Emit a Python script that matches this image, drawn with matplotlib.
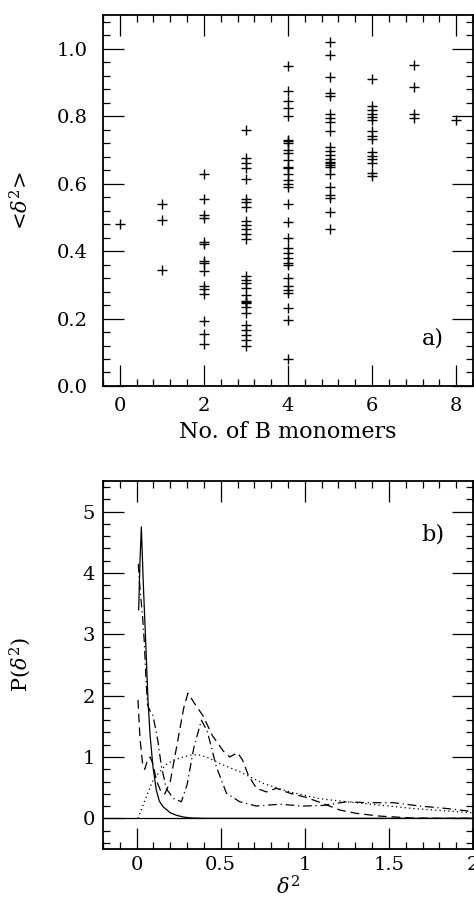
import numpy as np
import matplotlib
matplotlib.use("Agg")
import matplotlib.pyplot as plt
from matplotlib.ticker import MultipleLocator

plt.rcParams['font.family'] = ['DejaVu Serif']
plt.rcParams['mathtext.fontset'] = 'dejavuserif'

# ---- panel a: <delta^2> vs number of B monomers ----
nb_0 = [0.48]
nb_1 = [0.54, 0.492, 0.344]
nb_2 = [0.629, 0.555, 0.507, 0.498, 0.426, 0.421, 0.372, 0.365, 0.342,
        0.295, 0.288, 0.273, 0.194, 0.155, 0.125]
nb_3 = [0.76, 0.675, 0.66, 0.645, 0.615, 0.555, 0.545, 0.53, 0.49, 0.478,
        0.466, 0.452, 0.435, 0.325, 0.315, 0.305, 0.29, 0.27, 0.252, 0.248,
        0.245, 0.235, 0.215, 0.18, 0.165, 0.15, 0.135, 0.12]
nb_4 = [0.95, 0.875, 0.845, 0.825, 0.80, 0.73, 0.725, 0.72, 0.70, 0.69,
        0.67, 0.65, 0.645, 0.63, 0.61, 0.60, 0.59, 0.54, 0.485, 0.44, 0.41,
        0.395, 0.38, 0.365, 0.36, 0.32, 0.295, 0.285, 0.275, 0.23, 0.195, 0.08]
nb_5 = [1.02, 0.98, 0.915, 0.868, 0.86, 0.806, 0.796, 0.782, 0.757, 0.708,
        0.698, 0.685, 0.672, 0.665, 0.66, 0.655, 0.648, 0.63, 0.59, 0.567,
        0.558, 0.515, 0.465]
nb_6 = [0.91, 0.83, 0.818, 0.806, 0.797, 0.788, 0.757, 0.742, 0.732, 0.693,
        0.683, 0.672, 0.662, 0.633, 0.624]
nb_7 = [0.953, 0.887, 0.806, 0.795]
nb_8 = [0.789]
groups = [nb_0, nb_1, nb_2, nb_3, nb_4, nb_5, nb_6, nb_7, nb_8]

# ---- panel b: P(delta^2) curves ----
solid_x = [0.012, 0.02, 0.028, 0.04, 0.055, 0.067, 0.08, 0.097, 0.117, 0.135,
           0.157, 0.2, 0.236, 0.28, 0.33, 0.4, 1.0, 2.0]
solid_y = [3.4, 4.2, 4.75, 3.8, 2.8, 1.95, 1.35, 0.84, 0.46, 0.28,
           0.19, 0.09, 0.05, 0.02, 0.005, 0.0, 0.0, 0.0]

dashdot_x = [0.01, 0.015, 0.025, 0.035, 0.045, 0.055, 0.065, 0.08, 0.095, 0.11,
             0.127, 0.147, 0.177, 0.22, 0.266, 0.3, 0.34, 0.385, 0.42, 0.474,
             0.534, 0.613, 0.712, 0.851, 0.99, 1.109, 1.248, 1.367, 1.526,
             1.685, 1.843, 2.0]
dashdot_y = [4.15, 3.9, 3.6, 3.3, 2.9, 2.3, 1.85, 1.75, 1.7, 1.5,
             1.25, 0.85, 0.48, 0.32, 0.27, 0.55, 1.15, 1.6, 1.42, 0.84,
             0.41, 0.27, 0.2, 0.23, 0.2, 0.21, 0.27, 0.255, 0.255,
             0.2, 0.16, 0.11]

dash_x = [0.008, 0.02, 0.035, 0.048, 0.065, 0.08, 0.095, 0.12, 0.147, 0.168,
          0.2, 0.24, 0.28, 0.305, 0.35, 0.395, 0.45, 0.514, 0.554, 0.6, 0.63,
          0.663, 0.712, 0.772, 0.831, 0.91, 1.01, 1.109, 1.208, 1.308, 1.446,
          1.546, 1.645, 1.8, 2.0]
dash_y = [1.93, 1.3, 0.9, 0.8, 0.95, 1.0, 0.9, 0.6, 0.42, 0.4,
          0.6, 1.2, 1.8, 2.04, 1.85, 1.67, 1.35, 1.1, 1.0, 1.07, 0.95,
          0.71, 0.49, 0.43, 0.49, 0.41, 0.34, 0.24, 0.135, 0.08, 0.036,
          0.02, 0.005, 0.0, 0.0]

dot_x = [0.008, 0.05, 0.097, 0.137, 0.177, 0.22, 0.276, 0.335, 0.375, 0.415,
         0.514, 0.613, 0.752, 0.91, 1.089, 1.248, 1.446, 1.645, 1.843, 2.0]
dot_y = [0.0, 0.3, 0.62, 0.76, 0.88, 0.95, 1.0, 1.04, 1.03, 1.0,
         0.87, 0.76, 0.57, 0.43, 0.32, 0.27, 0.215, 0.16, 0.12, 0.09]


def style_axes(ax, xmaj, xmin, ymaj, ymin, xpad, ypad):
    ax.xaxis.set_major_locator(MultipleLocator(xmaj))
    ax.xaxis.set_minor_locator(MultipleLocator(xmin))
    ax.yaxis.set_major_locator(MultipleLocator(ymaj))
    ax.yaxis.set_minor_locator(MultipleLocator(ymin))
    ax.tick_params(which='both', direction='in', top=True, right=True,
                   labelsize=14, width=0.9, color='black')
    ax.tick_params(which='major', length=15)
    ax.tick_params(which='minor', length=5)
    ax.tick_params(axis='x', pad=xpad)
    ax.tick_params(axis='y', pad=ypad)
    for s in ax.spines.values():
        s.set_linewidth(1.3)


fig = plt.figure(figsize=(4.74, 9.05), dpi=100)

ax1 = fig.add_axes([0.2173, 0.5735, 0.7806, 0.4099])
for n, vals in enumerate(groups):
    ax1.plot([n] * len(vals), vals, linestyle='none', marker='+',
             markersize=6.5, markeredgewidth=1.0, color='black')
ax1.set_xlim(-0.4, 8.4)
ax1.set_ylim(0.0, 1.1)
style_axes(ax1, 2, 0.4, 0.2, 0.04, 8, 11)
ax1.yaxis.set_major_formatter(matplotlib.ticker.FormatStrFormatter('%.1f'))
ax1.set_xlabel('No. of B monomers', fontsize=16, labelpad=4)
ax1.set_ylabel('<$\\delta^2$>', fontsize=15)
ax1.yaxis.set_label_coords(-0.19, 0.5)
ax1.text(7.45, 0.14, 'a)', fontsize=16, ha='center', va='center')

ax2 = fig.add_axes([0.2173, 0.0619, 0.7806, 0.4066])
lw = 0.9
ax2.axhline(0, color='black', lw=lw)
ax2.plot(solid_x, solid_y, color='black', lw=lw, linestyle='-')
ax2.plot(dash_x, dash_y, color='black', lw=lw, linestyle=(0, (7, 4)))
ax2.plot(dashdot_x, dashdot_y, color='black', lw=lw,
         linestyle=(0, (7, 3, 1, 3)))
ax2.plot(dot_x, dot_y, color='black', lw=lw, linestyle=(0, (1, 2.5)))
ax2.set_xlim(-0.2, 2.0)
ax2.set_ylim(-0.5, 5.5)
style_axes(ax2, 0.5, 0.1, 1, 0.2, 5, 6)
ax2.xaxis.set_major_formatter(matplotlib.ticker.FuncFormatter(
    lambda v, p: ('%g' % v)))
ax2.set_xlabel('$\\delta^2$', fontsize=15, labelpad=1)
ax2.set_ylabel('P($\\delta^2$)', fontsize=15)
ax2.yaxis.set_label_coords(-0.19, 0.5)
ax2.text(1.76, 4.62, 'b)', fontsize=16, ha='center', va='center')

fig.savefig('out.png', dpi=100)
